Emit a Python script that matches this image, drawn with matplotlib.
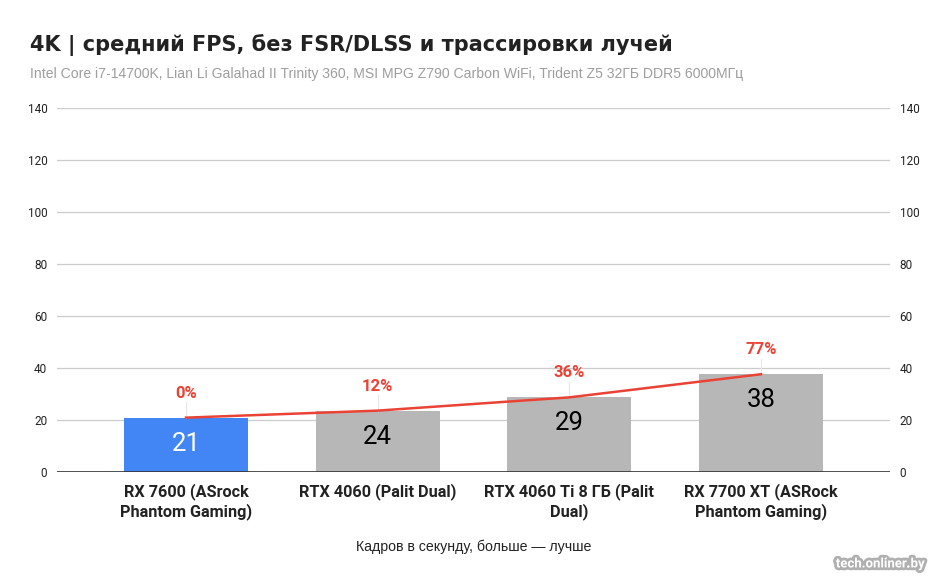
import matplotlib.pyplot as plt
import matplotlib.patheffects as pe
import numpy as np

plt.rcParams['font.family'] = ['Roboto', 'DejaVu Sans']

# data
cards = ["RX 7600 (ASrock\nPhantom Gaming)", "RTX 4060 (Palit Dual)",
         "RTX 4060 Ti 8 ГБ (Palit\nDual)", "RX 7700 XT (ASRock\nPhantom Gaming)"]
fps = [20.9, 23.6, 28.7, 37.6]
gain = [0, 12, 36, 77]
bar_colors = ["#4285F4", "#B7B7B7", "#B7B7B7", "#B7B7B7"]
label_colors = ["white", "black", "black", "black"]
yticks = [0, 20, 40, 60, 80, 100, 120, 140]

fig = plt.figure(figsize=(9.47, 5.85), dpi=100)
ax = fig.add_axes([0.0602, 0.1932, 0.8796, 0.6222])
x = np.arange(len(cards))

ax.bar(x, fps, width=0.647, color=bar_colors, zorder=2)
for xi, v, c in zip(x, fps, label_colors):
    ax.text(xi, v - 10, f"{v:.0f}", ha="center", va="center", fontsize=18.5, color=c, zorder=4)

ax2 = ax.twinx()
ax2.plot(x, fps, color="#EA4335", lw=1.8, zorder=3)
for xi, v, g in zip(x, fps, gain):
    ax2.plot([xi, xi], [v, v + 6], color="#e6e6e6", lw=0.8, zorder=1)
    ax2.text(xi, v + 6.5, f"{g}%", ha="center", va="bottom", fontsize=12,
             fontweight="bold", color="#EA4335")

for a in (ax, ax2):
    a.set_ylim(0, 140)
    a.set_yticks(yticks)
    a.set_xlim(-0.673, 3.673)
    for s in a.spines.values():
        s.set_visible(False)
    a.tick_params(axis="y", length=0, labelsize=8.5, labelcolor="#222222", pad=7)

ax.yaxis.grid(True, color="#cccccc", lw=0.9, zorder=0)
ax.set_axisbelow(True)
ax.axhline(0, color="#333333", lw=1.2, zorder=3)
ax.set_xticks(x)
ax.set_xticklabels(cards, fontsize=11.7, fontweight="bold", color="#222222", linespacing=1.25)
ax.tick_params(axis="x", length=0, pad=8)
ax.set_xlabel("Кадров в секунду, больше — лучше", fontsize=10.2, color="#222222", labelpad=14,
              family=["Liberation Sans", "DejaVu Sans"])

fig.text(0.032, 0.923, "4K | средний FPS, без FSR/DLSS и трассировки лучей",
         fontsize=15, fontweight="bold", color="#222222", va="center",
         family=["DejaVu Sans"])
fig.text(0.032, 0.873, "Intel Core i7-14700K, Lian Li Galahad II Trinity 360, MSI MPG Z790 Carbon WiFi, Trident Z5 32ГБ DDR5 6000МГц",
         fontsize=10.1, color="#9e9e9e", va="center", family=["Liberation Sans", "DejaVu Sans"])
fig.text(0.977, 0.036, "tech.onliner.by", fontsize=9.5, fontweight="bold", color="white",
         ha="right", va="center",
         path_effects=[pe.withStroke(linewidth=4, foreground="#b0b0b0")])

fig.savefig("out.png", dpi=100, facecolor="white")
